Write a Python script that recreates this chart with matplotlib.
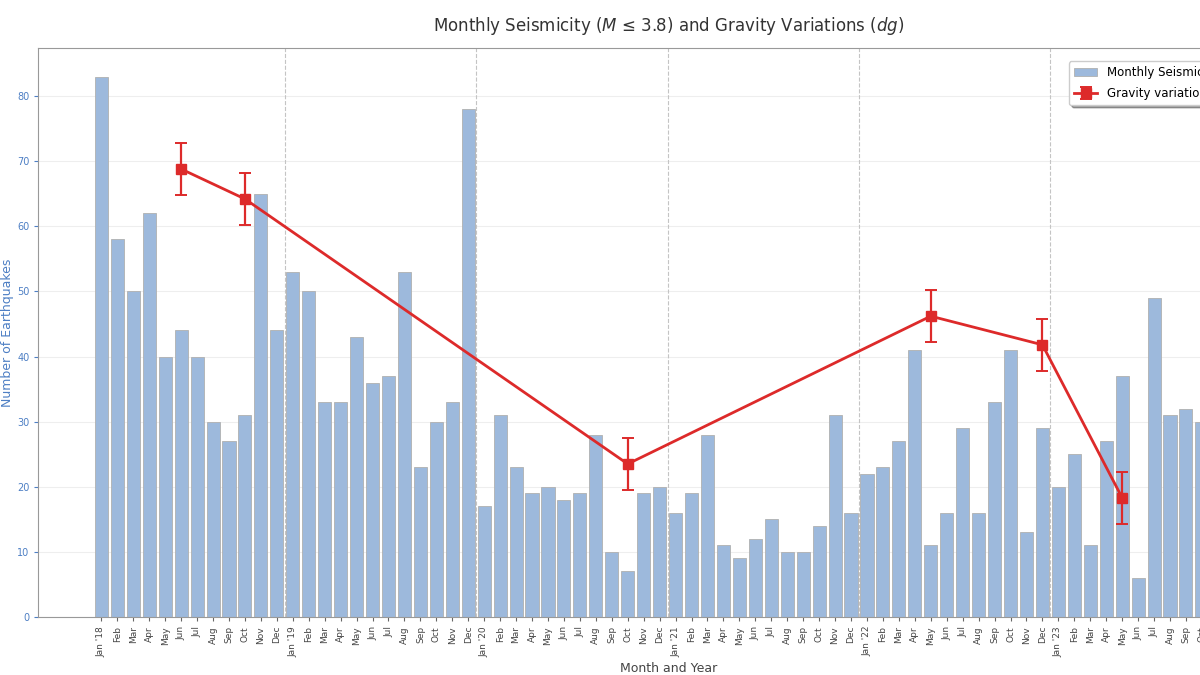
import matplotlib
matplotlib.use("Agg")
import matplotlib.pyplot as plt
import numpy as np

# ─── Dados ───────────────────────────────────────────────────────────────────
months = ["Jan", "Feb", "Mar", "Apr", "May", "Jun",
          "Jul", "Aug", "Sep", "Oct", "Nov", "Dec"]
years = ["18", "19", "20", "21", "22", "23"]

# sismicidade mensal (M <= 3.8), Jan 2018 .. Oct 2023
quakes = [83, 58, 50, 62, 40, 44, 40, 30, 27, 31, 65, 44,
          53, 50, 33, 33, 43, 36, 37, 53, 23, 30, 33, 78,
          17, 31, 23, 19, 20, 18, 19, 28, 10, 7, 19, 20,
          16, 19, 28, 11, 9, 12, 15, 10, 10, 14, 31, 16,
          22, 23, 27, 41, 11, 16, 29, 16, 33, 41, 13, 29,
          20, 25, 11, 27, 37, 6, 49, 31, 32, 30]

# campanhas de gravimetria (índice do mês) e variações dg
grav_idx = [5, 9, 33, 52, 59, 64]
grav_dg = [68.8, 64.2, 23.5, 46.2, 41.8, 18.3]
grav_err = [4.0, 4.0, 4.0, 4.0, 4.0, 4.0]

labels = []
for i in range(len(quakes)):
    m = months[i % 12]
    y = years[i // 12]
    labels.append(f"{m} '{y}" if m == "Jan" else m)

BAR_COLOR = "#9db9dc"
RED = "#dd2a2a"
BLUE = "#4d7fc4"

fig = plt.figure(figsize=(12, 6.75), dpi=100)
# eixo mais largo que a figura: a imagem de referência está cortada à direita
ax = fig.add_axes([0.032, 0.086, 1.05, 0.843])

x = np.arange(len(quakes))
ax.bar(x, quakes, width=0.82, color=BAR_COLOR, edgecolor="#b0b0b0",
       linewidth=0.6, label="Monthly Seismicity", zorder=2)

ax.errorbar(grav_idx, grav_dg, yerr=grav_err, color=RED, marker="s",
            markersize=7, linewidth=2, elinewidth=1.6, capsize=4,
            capthick=1.4, label="Gravity variations (dg)", zorder=4)

# separadores de ano
for k in range(1, len(years)):
    ax.axvline(12 * k - 0.5, color="#c4c4c4", linestyle="--",
               linewidth=0.8, zorder=1)

ax.set_xlim(-3.95, 75.05)
ax.set_ylim(0, 87.4)
ax.set_xticks(x)
ax.set_xticklabels(labels, rotation=90, fontsize=6.5, color="#444444")
ax.set_yticks(np.arange(0, 90, 10))
ax.tick_params(axis="y", colors=BLUE, labelsize=7, length=3)
ax.tick_params(axis="x", length=3, color="#666666")
ax.yaxis.grid(True, color="#eeeeee", linewidth=0.8, zorder=0)
ax.set_axisbelow(True)

for sp in ax.spines.values():
    sp.set_color("#999999")

ax.set_ylabel("Number of Earthquakes", color=BLUE, fontsize=9, labelpad=2)
ax.set_xlabel("Month and Year", color="#444444", fontsize=9)
fig.text(0.557, 0.962, "Monthly Seismicity ($M$ ≤ 3.8) and Gravity Variations ($dg$)",
         ha="center", va="center", fontsize=12, color="#333333")

ax.legend(loc="upper left", bbox_to_anchor=(0.886, 0.918),
          bbox_transform=fig.transFigure, fontsize=8.5, frameon=True,
          framealpha=1, edgecolor="#cccccc", fancybox=True, shadow=True,
          labelspacing=0.7)

fig.savefig("out.png", dpi=100)
